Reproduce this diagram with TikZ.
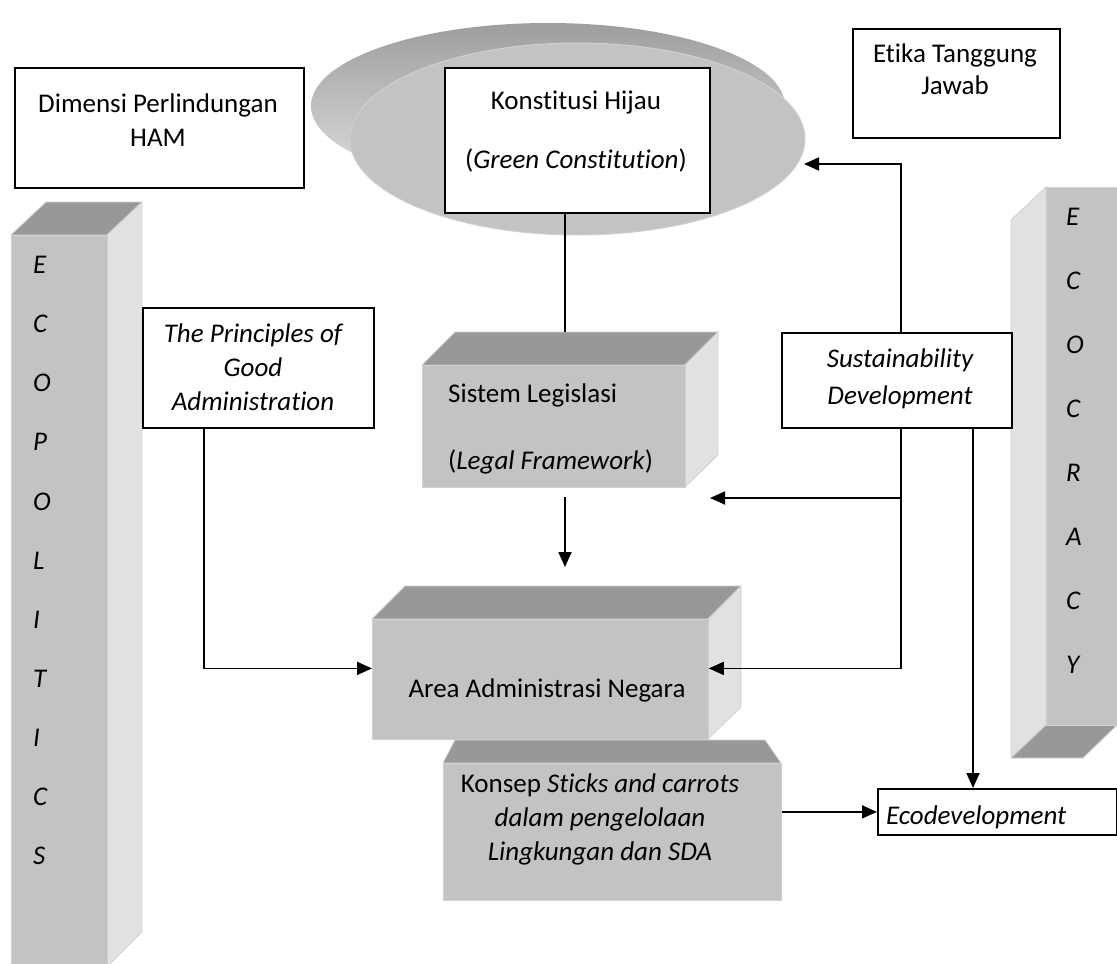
\documentclass[tikz,border=0pt]{standalone}
\usepackage{fontspec}
\setmainfont{Carlito}[Ligatures={NoCommon}]
\usetikzlibrary{arrows.meta,shapes.geometric,calc}
\definecolor{frontc}{HTML}{C3C3C3}
\definecolor{topc}{HTML}{989898}
\definecolor{sidec}{HTML}{E1E1E1}
\definecolor{edgec}{HTML}{D0D0D0}
\begin{document}
\begin{tikzpicture}[x=1pt,y=-1pt,
  every node/.style={font=\fontsize{27}{34}\selectfont, inner sep=0pt},
  wbox/.style={draw=black, line width=1.8pt, fill=white, rectangle, anchor=north west},
  face/.style={fill=frontc, draw=edgec, line width=0.8pt, rectangle, anchor=north west},
  topface/.style={fill=topc, draw=edgec, line width=0.8pt},
  sideface/.style={fill=sidec, draw=edgec, line width=0.8pt},
  conn/.style={line width=1.8pt},
  arr/.style={line width=1.8pt, -{Triangle[length=15pt,width=13pt]}},
  txt/.style={align=center},
  itx/.style={align=center, font=\fontsize{27}{34}\selectfont\itshape},
  letter/.style={font=\fontsize{27}{34}\selectfont\itshape, anchor=west}
]
\useasboundingbox (0,0) rectangle (1117,964);

% ---- left pillar ECOPOLITICS
\path[topface] (11,235) -- (46,202) -- (142,202) -- (107,235) -- cycle;
\path[sideface] (107,235) -- (142,202) -- (142,932) -- (107,967) -- cycle;
\node[face, minimum width=96pt, minimum height=735pt] (lp) at (11,235) {};
\foreach \l [count=\i from 0] in {E,C,O,P,O,L,I,T,I,C,S}
  \node[letter] (ep\i) at (33,{265+59.1*\i}) {\l};

% ---- right pillar ECOCRACY
\path[sideface] (1011,220) -- (1046,187) -- (1046,725) -- (1011,758) -- cycle;
\path[topface] (1046,725) -- (1117,725) -- (1083,758) -- (1011,758) -- cycle;
\node[face, minimum width=75pt, minimum height=538pt] (rp) at (1046,187) {};
\foreach \l [count=\i from 0] in {E,C,O,C,R,A,C,Y}
  \node[letter] (ec\i) at (1066,{217+64*\i}) {\l};

% ---- ellipse
\node[ellipse, minimum width=474pt, minimum height=166pt, top color=black!38, bottom color=black!12] (be) at (548,106) {};
\node[ellipse, fill=frontc, draw=edgec, line width=1pt, minimum width=455pt, minimum height=192pt] (fe) at (577.5,139) {};

% ---- white boxes
\node[wbox, minimum width=289pt, minimum height=120pt] (dm) at (14,67) {};
\node[txt] (dmT) at (158,120) {Dimensi Perlindungan\\HAM};
\node[wbox, minimum width=207pt, minimum height=109pt] (et) at (852,28) {};
\node[txt] (etT) at (955,69) {Etika Tanggung\\[-2pt]Jawab};
\node[wbox, minimum width=265pt, minimum height=145pt] (kh) at (444,67) {};
\node[txt] (khT) at (576,132) {Konstitusi Hijau\\[25pt](\textit{Green Constitution})};
\node[wbox, minimum width=231pt, minimum height=120pt] (pr) at (142,307) {};
\node[itx] (prT) at (253,367) {The Principles of\\Good\\Administration};
\node[wbox, minimum width=230pt, minimum height=95pt] (sd) at (781,332) {};
\node[itx] (sdT) at (900,378.5) {Sustainability\\[3pt]Development};
\node[wbox, minimum width=239pt, minimum height=46pt] (eco) at (877,788) {};
\node[anchor=west, font=\fontsize{27}{34}\selectfont\itshape] (ecoT) at (886,817) {Ecodevelopment};

% ---- Sistem Legislasi
\path[topface] (422,365) -- (455,332) -- (718,332) -- (685,365) -- cycle;
\path[sideface] (685,365) -- (718,332) -- (718,455) -- (685,487) -- cycle;
\node[face, minimum width=263pt, minimum height=122pt] (leg) at (422,365) {};
\node[align=left, anchor=west] (legT) at (448,428.5) {Sistem Legislasi\\[33pt](\textit{Legal Framework})};

% ---- Area Administrasi Negara
\path[topface] (372,619) -- (405,586) -- (741,586) -- (708,619) -- cycle;
\path[sideface] (708,619) -- (741,586) -- (741,707) -- (708,739) -- cycle;
\node[face, minimum width=336pt, minimum height=120pt] (ar) at (372,619) {};
\node (arT) at (547,690) {Area Administrasi Negara};

% ---- Konsep
\path[topface] (443,763) -- (455,740) -- (765,740) -- (781,763) -- cycle;
\node[face, minimum width=338pt, minimum height=137pt] (ks) at (443,763) {};
\node[txt] (ksT) at (600,819) {Konsep \textit{Sticks and carrots}\\\textit{dalam pengelolaan}\\\textit{Lingkungan dan SDA}};

% ---- connectors
\coordinate (legtop) at (565,332);
\draw[conn] (kh.south -| legtop) -- (legtop);
\coordinate (a1s) at (565,497);
\coordinate (a1e) at (565,567);
\draw[arr] (a1s) -- (a1e);
\coordinate (xp) at (204,0);
\draw[arr] (pr.south -| xp) |- ([yshift=11pt]ar.west);
\coordinate (xs) at (901,0);
\coordinate (ftip) at (804,164);
\draw[arr] (sd.north -| xs) |- (ftip);
\coordinate (ltip) at (710,498);
\draw[arr] (sd.south -| xs) |- (ltip);
\draw[arr] (sd.south -| xs) |- ([yshift=11pt]ar.east);
\coordinate (xe) at (973,0);
\draw[arr] (sd.south -| xe) -- (eco.north -| xe);
\draw[arr] (ks.east |- eco.west) -- (eco.west);
\end{tikzpicture}
\end{document}
